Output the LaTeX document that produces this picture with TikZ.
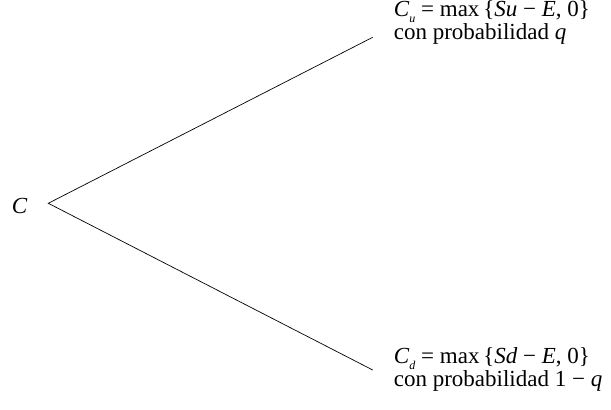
\documentclass[tikz,border=0pt]{standalone}
\usepackage{fontspec}
\setmainfont{Liberation Serif}
\usepackage{tikz}
\usetikzlibrary{positioning}

\newcommand{\vi}[1]{\textit{#1}}
\newcommand{\lowsub}[1]{\raisebox{-6pt}{\fontsize{12}{12}\selectfont\vi{#1}}}

\begin{document}
\begin{tikzpicture}[x=1pt,y=1pt,line width=0.7pt,
		label font/.style={font=\fontsize{23}{21.5}\selectfont},
		payoff/.style={label font,align=left,anchor=base west,inner sep=0pt}]
		\useasboundingbox (0,0) rectangle (611,410);

		% Root of the tree
		\node[label font,anchor=base west,inner sep=0pt] (root) at (11.5,196) {\vi{C}};
		\coordinate (fork) at (48.3,206.7);

		% Branch ends
		\coordinate (uend) at (372.7,372.7);
		\coordinate (dend) at (372.7,40);

		% Payoffs (base anchor = baseline of the second line)
		\node[payoff] (up) at (393.5,370.7)
			{\vi{C}\lowsub{u} = max\,\{\vi{Su} − \vi{E}, 0\}\\con probabilidad \vi{q}};
		\node[payoff] (down) at (393.5,23.3)
			{\vi{C}\lowsub{d} = max\,\{\vi{Sd} − \vi{E}, 0\}\\con probabilidad 1 − \vi{q}};

		\draw (uend) -- (fork) -- (dend);
	\end{tikzpicture}
\end{document}
